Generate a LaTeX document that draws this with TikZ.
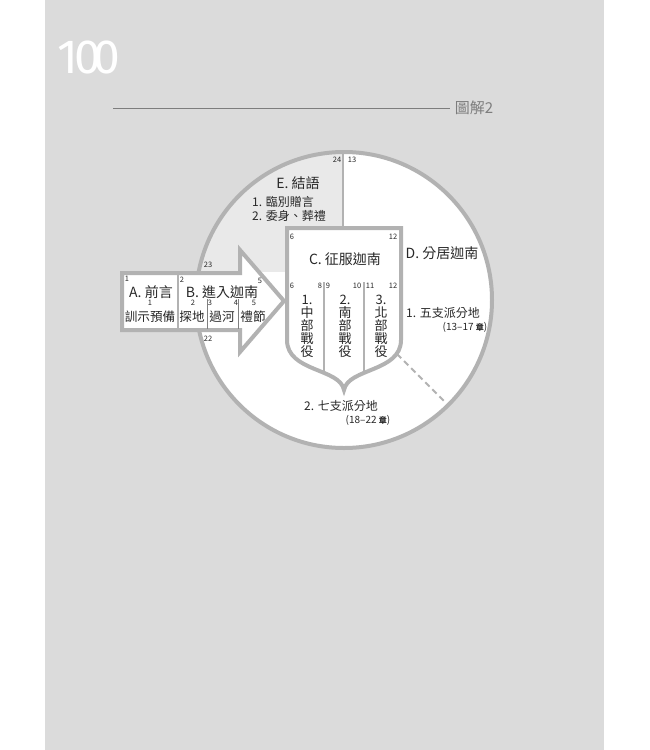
\documentclass[tikz,border=0pt]{standalone}
\usepackage{fontspec}
\setmainfont{Noto Sans CJK TC}
\newfontfamily\pagenumfont{Fira Sans}
\usetikzlibrary{positioning}
\definecolor{pagebg}{RGB}{219,219,219}
\definecolor{efill}{RGB}{233,233,233}
\definecolor{linegray}{RGB}{178,178,178}
\definecolor{textdark}{RGB}{40,40,40}
\definecolor{headgray}{RGB}{125,125,125}
\newcommand{\shieldoutline}{(287,228) -- (401,228) -- (401,340) .. controls (401,372) and (348,368) .. (344,390) .. controls (340,368) and (287,372) .. (287,340) -- cycle}

\begin{document}
\begin{tikzpicture}[x=1pt,y=-1pt,
	lbl/.style={inner sep=0pt, text=textdark, font=\fontsize{12}{13}\selectfont},
	sub/.style={lbl, font=\fontsize{12.6}{13}\selectfont},
	ttl/.style={lbl, font=\fontsize{14}{15}\selectfont},
	col/.style={lbl, align=center, font=\fontsize{13}{13}\selectfont},
	num/.style={inner sep=0pt, text=textdark, font=\fontsize{7.5}{8}\selectfont},
	chap/.style={inner sep=0pt, text=textdark, font=\fontsize{10}{10}\selectfont},
	rim/.style={draw=linegray, line width=4pt},
	]
	\fill [white] (0,0) rectangle (650,750);
	\fill [pagebg] (45,0) rectangle (604,750);
	\useasboundingbox (0,0) rectangle (650,750);
	
	\node [inner sep=0pt, text=white, font=\pagenumfont\fontsize{48}{48}\selectfont] (pnum) at (89,57) {1\kern-4pt0\kern-8pt0};
	\coordinate (hl) at (113,108);
	\node [inner sep=0pt, text=headgray, font=\fontsize{15}{15}\selectfont] (head) at (474,108) {圖解2};
	\draw [headgray, line width=1pt] (hl) -- ([xshift=-5pt]head.west);
	
	\coordinate (o) at (344,300);
	\fill [white] (o) circle [radius=148pt];
	\begin{scope}
		\clip (o) circle [radius=148pt];
		\fill [efill] (190,140) rectangle (343,272);
	\end{scope}
	\draw [rim] (o) circle [radius=148pt];
	\coordinate (etop) at (343,150);
	\coordinate (ctop) at (343,228);
	\draw [linegray, line width=2pt] (etop) -- (ctop);
	
	\draw [rim, fill=white] (122,273) -- (240,273) -- (240,250) -- (284,301) -- (240,352) -- (240,330) -- (122,330) -- cycle;
	\draw [linegray, line width=1.5pt] (178,273) -- (178,330);
	\draw [gray, line width=0.6pt] (207,299) -- (207,329) (238,299) -- (238,329);
	
	\draw [rim, fill=white] \shieldoutline;
	\begin{scope}
		\clip \shieldoutline;
		\draw [linegray, line width=2pt] (324,282) -- (324,400) (364,282) -- (364,400);
	\end{scope}
	\coordinate (dfrom) at (397,354);
	\coordinate (dto) at (445,402);
	\draw [linegray, line width=2pt, dash pattern=on 6pt off 4pt] (dfrom) -- (dto);
	
	\node [num] (e24) at (337,160) {24};
	\node [num] (e13) at (352,160) {13};
	\node [ttl] (etitle) at (298,183) {E. 結語};
	\node [lbl, anchor=west] (e1) at (252,202) {1. 臨別贈言};
	\node [lbl, below right=2pt and 0pt of e1.south west] (e2) {2. 委身、葬禮};
	
	\node [num] (c6) at (292,237) {6};
	\node [num] (c12) at (393,237) {12};
	\node [ttl] (ctitle) at (345,259) {C. 征服迦南};
	\node [num] (r6) at (292,286) {6};
	\node [num] (r8) at (320,286) {8};
	\node [num] (r9) at (328,286) {9};
	\node [num] (r10) at (357,286) {10};
	\node [num] (r11) at (370,286) {11};
	\node [num] (r12) at (393,286) {12};
	\node [col] (war1) at (307,326) {1.\\中\\部\\戰\\役};
	\node [col] (war2) at (345,326) {2.\\南\\部\\戰\\役};
	\node [col] (war3) at (381,326) {3.\\北\\部\\戰\\役};
	
	\node [ttl] (dtitle) at (442,253) {D. 分居迦南};
	\node [lbl] (d1) at (443,313) {1. 五支派分地};
	\node [chap] (d1ch) at (465,327) {(13–17 {\fontsize{8}{8}\selectfont\bfseries 章})};
	\node [lbl] (d2) at (341,406) {2. 七支派分地};
	\node [chap] (d2ch) at (368,420) {(18–22 {\fontsize{8}{8}\selectfont\bfseries 章})};
	
	\node [num] (a1) at (127,279) {1};
	\node [ttl] (atitle) at (151,292) {A. 前言};
	\node [num] (a1s) at (150,303) {1};
	\node [sub] (atext) at (150,317) {訓示預備};
	\node [num] (b2) at (182,280) {2};
	\node [ttl] (btitle) at (222,292) {B. 進入迦南};
	\node [num] (b5) at (260,281) {5};
	\node [num] (b2s) at (193,303) {2};
	\node [sub] (spy) at (192,317) {探地};
	\node [num] (b3s) at (210,303) {3};
	\node [num] (b4s) at (236,303) {4};
	\node [sub] (cross) at (222,317) {過河};
	\node [num] (b5s) at (254,303) {5};
	\node [sub] (rite) at (253,317) {禮節};
	\node [num] (a23) at (208,265) {23};
	\node [num] (a22) at (208,339) {22};
\end{tikzpicture}
\end{document}
